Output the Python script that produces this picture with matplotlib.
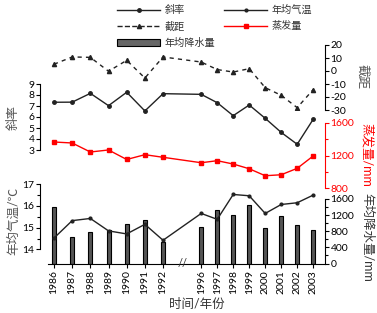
import matplotlib
matplotlib.use("Agg")
import matplotlib.pyplot as plt
from matplotlib.lines import Line2D
from matplotlib.patches import Patch
from matplotlib.ticker import MultipleLocator, FixedLocator
import numpy as np

plt.rcParams['font.family'] = ['Lato', 'Noto Sans CJK SC', 'DejaVu Sans']
plt.rcParams['axes.unicode_minus'] = False

# 数据
years = [1986, 1987, 1988, 1989, 1990, 1991, 1992,
         1996, 1997, 1998, 1999, 2000, 2001, 2002, 2003]
slope = [7.34, 7.35, 8.15, 7.03, 8.25, 6.55, 8.12,
         8.06, 7.3, 6.12, 7.09, 5.88, 4.6, 3.52, 5.79]
intercept = [5.2, 10.8, 10.5, -0.2, 8.2, -5.4, 10.8,
             6.9, 1.1, -0.8, 1.8, -12.8, -18.7, -28.2, -14.3]
evaporation = [1366, 1354, 1243, 1268, 1151, 1210, 1178,
               1111, 1136, 1095, 1037, 951, 963, 1042, 1194]
temperature = [14.52, 15.32, 15.42, 14.85, 14.71, 15.15, 14.42,
               15.65, 15.38, 16.52, 16.46, 15.65, 16.06, 16.14, 16.49]
precipitation = [1395, 657, 770, 819, 984, 1082, 524,
                 903, 1321, 1198, 1451, 893, 1181, 959, 819]

# x 位置：1992 之后有断轴
x = np.array([i if y <= 1992 else 8.1 + 0.88 * (y - 1996)
              for i, y in enumerate(years)])
xlim = (-0.77, 14.91)

W, H = 377, 313
fig = plt.figure(figsize=(W / 100, H / 100), dpi=100)


def make_ax(top, bottom):
    ax = fig.add_axes([40 / W, 1 - bottom / H, 285 / W, (bottom - top) / H])
    ax.patch.set_visible(False)
    ax.set_xlim(*xlim)
    ax.set_xticks([])
    for s in ax.spines.values():
        s.set_visible(False)
    ax.tick_params(labelsize=7.5, length=3, width=0.8, pad=1)
    ax.tick_params(which='minor', length=2, width=0.8)
    return ax


grey = '#555555'
red = '#ff0000'

# 截距
ax_int = make_ax(45, 110)
ax_int.plot(x, intercept, '--', color='#222222', lw=1, marker='^', ms=3,
            dashes=(3, 3))
ax_int.set_ylim(-30, 20)
ax_int.set_yticks(range(-30, 21, 10))
ax_int.yaxis.tick_right()
ax_int.spines['right'].set_visible(True)

# 斜率
ax_sl = make_ax(84, 150)
ax_sl.plot(x, slope, '-', color='#222222', lw=1, marker='o', ms=2.5)
ax_sl.set_ylim(3, 9)
ax_sl.set_yticks(range(3, 10))
ax_sl.spines['left'].set_visible(True)

# 蒸发量
ax_ev = make_ax(123, 188)
ax_ev.plot(x, evaporation, '-', color=red, lw=1, marker='s', ms=2.5)
ax_ev.set_ylim(800, 1600)
ax_ev.set_yticks([800, 1200, 1600])
ax_ev.yaxis.set_minor_locator(MultipleLocator(200))
ax_ev.yaxis.tick_right()
ax_ev.spines['right'].set_visible(True)
ax_ev.spines['right'].set_color(red)
ax_ev.tick_params(which='both', colors=red, labelcolor=red)

# 年均降水量
ax_pr = make_ax(199, 263.5)
ax_pr.bar(x, precipitation, width=0.22, color='#555555', edgecolor='black', lw=0.8)
ax_pr.set_ylim(0, 1600)
ax_pr.set_yticks(range(0, 1601, 400))
ax_pr.yaxis.set_minor_locator(MultipleLocator(200))
ax_pr.yaxis.tick_right()
ax_pr.spines['right'].set_visible(True)

# 年均气温
ax_t = make_ax(184, 263.5)
ax_t.plot(x, temperature, '-', color='#222222', lw=1, marker='o', ms=2)
ax_t.set_ylim(13.354, 17)
ax_t.set_yticks([14, 15, 16, 17])
ax_t.yaxis.set_minor_locator(FixedLocator([14.5, 15.5, 16.5]))
ax_t.spines['left'].set_visible(True)
ax_t.spines['left'].set_bounds(14, 17)
ax_t.spines['bottom'].set_visible(True)
ax_t.spines['bottom'].set_bounds(-0.35, xlim[1])
ax_t.set_xticks(x)
ax_t.set_xticklabels([str(y) for y in years], rotation=90, fontsize=7.5)
ax_t.tick_params(axis='x', length=3, pad=2)
ax_t.text(7.05, 0, '//', transform=ax_t.get_xaxis_transform(),
          ha='center', va='center', fontsize=8, color='#333333')

# 坐标轴标题
lab = dict(ha='center', va='center', fontsize=9)
fig.text(13 / W, 1 - 117 / H, '斜率', rotation=90, color=grey, **lab)
fig.text(13 / W, 1 - 221 / H, '年均气温/℃', rotation=90, color=grey, **lab)
fig.text(363 / W, 1 - 77 / H, '截距', rotation=270, color=grey, **lab)
fig.text(367 / W, 1 - 155 / H, '蒸发量/mm', rotation=270, color=red, **lab)
fig.text(367 / W, 1 - 237 / H, '年均降水量/mm', rotation=270, color='#333333', **lab)
fig.text(197 / W, 1 - 304 / H, '时间/年份', color='#333333', **lab)

# 图例
handles = [
    Line2D([], [], color='#222222', lw=1, marker='o', ms=2.5),
    Line2D([], [], color='#222222', lw=1, ls='--', marker='^', ms=3),
    Patch(facecolor='#666666', edgecolor='black', lw=0.8),
    Line2D([], [], color='#222222', lw=1, marker='o', ms=2),
    Line2D([], [], color=red, lw=1, marker='s', ms=2.5),
]
labels = ['斜率', '截距', '年均降水量', '年均气温', '蒸发量']
fig.legend(handles, labels, ncol=2, loc='upper left',
           bbox_to_anchor=(108 / W, 1 + 4 / H), frameon=False,
           fontsize=7.3, handlelength=4.25, handleheight=0.7,
           labelspacing=0.6, columnspacing=0.9, handletextpad=0.4,
           labelcolor='#333333')

fig.savefig('out.png', dpi=100)
